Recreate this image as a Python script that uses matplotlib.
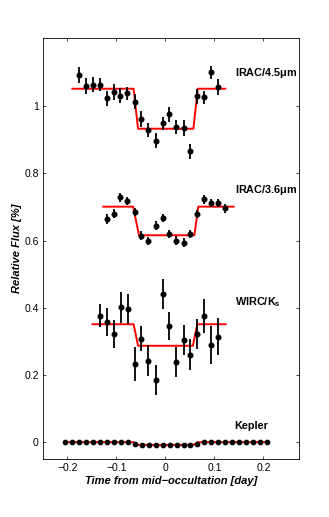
import numpy as np
from matplotlib import pyplot as plt
import matplotlib as mpl

# IRAC 4.5 micron
t_45 = [-0.176, -0.162, -0.148, -0.134, -0.120, -0.105, -0.092, -0.078, -0.062, -0.049, -0.035,
        -0.020, -0.006, 0.008, 0.022, 0.037, 0.051, 0.065, 0.078, 0.093, 0.108]
f_45 = [1.094, 1.060, 1.064, 1.064, 1.024, 1.042, 1.031, 1.038, 1.013, 0.961, 0.929,
        0.897, 0.949, 0.976, 0.938, 0.935, 0.866, 1.030, 1.026, 1.101, 1.057]
e_45 = [0.024, 0.024, 0.022, 0.020, 0.022, 0.024, 0.022, 0.020, 0.022, 0.024, 0.020,
        0.022, 0.020, 0.022, 0.022, 0.024, 0.022, 0.022, 0.020, 0.020, 0.024]
m_45_t = [-0.190, -0.065, -0.056, 0.057, 0.066, 0.122]
m_45_f = [1.052, 1.052, 0.933, 0.933, 1.052, 1.052]

# IRAC 3.6 micron
t_36 = [-0.120, -0.106, -0.092, -0.078, -0.062, -0.049, -0.035, -0.020, -0.006, 0.008, 0.022,
        0.037, 0.051, 0.065, 0.078, 0.093, 0.108, 0.122]
f_36 = [0.664, 0.680, 0.729, 0.718, 0.685, 0.615, 0.599, 0.644, 0.667, 0.620, 0.600,
        0.594, 0.620, 0.679, 0.723, 0.712, 0.712, 0.696]
e_36 = [0.014, 0.013, 0.013, 0.013, 0.013, 0.013, 0.013, 0.013, 0.013, 0.013, 0.013,
        0.013, 0.013, 0.013, 0.013, 0.013, 0.013, 0.013]
m_36_t = [-0.127, -0.066, -0.054, 0.059, 0.067, 0.139]
m_36_f = [0.701, 0.701, 0.616, 0.616, 0.701, 0.701]

# WIRC Ks
t_ks = [-0.133, -0.119, -0.105, -0.091, -0.077, -0.062, -0.049, -0.035, -0.020, -0.006, 0.008,
        0.022, 0.037, 0.051, 0.065, 0.079, 0.093, 0.108]
f_ks = [0.377, 0.357, 0.323, 0.401, 0.397, 0.233, 0.308, 0.242, 0.184, 0.441, 0.346,
        0.239, 0.304, 0.261, 0.322, 0.376, 0.290, 0.314]
e_ks = [0.035, 0.041, 0.042, 0.045, 0.045, 0.050, 0.037, 0.046, 0.045, 0.045, 0.042,
        0.045, 0.045, 0.046, 0.044, 0.050, 0.057, 0.055]
m_ks_t = [-0.149, -0.065, -0.056, 0.056, 0.065, 0.123]
m_ks_f = [0.351, 0.351, 0.287, 0.287, 0.351, 0.351]

# Kepler
t_kp = [-0.2045, -0.1903, -0.1761, -0.1619, -0.1477, -0.1335, -0.1193, -0.1051, -0.0909, -0.0767,
        -0.0625, -0.0483, -0.0341, -0.0199, -0.0057, 0.0085, 0.0227, 0.0369, 0.0511, 0.0653,
        0.0795, 0.0937, 0.1079, 0.1221, 0.1363, 0.1505, 0.1647, 0.1789, 0.1931, 0.2073]
f_kp = [0.0, 0.0, 0.0, 0.0, 0.0, 0.0, 0.0, 0.0, 0.0, 0.0,
        -0.004, -0.008, -0.008, -0.008, -0.008, -0.008, -0.008, -0.008, -0.008, -0.004,
        0.0, 0.0, 0.0, 0.0, 0.0, 0.0, 0.0, 0.0, 0.0, 0.0]
m_kp_t = [-0.2045, -0.065, -0.056, 0.057, 0.066, 0.2073]
m_kp_f = [0.0, 0.0, -0.008, -0.008, 0.0, 0.0]

labels = ['IRAC/4.5$\\mathbf{\\mu}$m', 'IRAC/3.6$\\mathbf{\\mu}$m', 'WIRC/K$_\\mathbf{s}$', 'Kepler']
label_y = [1.100, 0.751, 0.417, 0.048]


def set_mpl():
    mpl.rcParams.update(
        {
            'font.family': ['Liberation Sans', 'DejaVu Sans'],
            'mathtext.fontset': 'custom',
            'mathtext.rm': 'Liberation Sans',
            'mathtext.bf': 'Liberation Sans:bold',
            'font.size': 7.5,
            'axes.linewidth': 0.6,
            'xtick.direction': 'in',
            'ytick.direction': 'in',
            'xtick.top': True,
            'ytick.right': True,
            'xtick.major.size': 2.5,
            'ytick.major.size': 2.5,
            'xtick.major.width': 0.5,
            'ytick.major.width': 0.5,
        }
    )


def plot_figure():
    set_mpl()
    fig = plt.figure(figsize=(3.29, 5.17), dpi=100)
    ax = fig.add_axes([43 / 329, 1 - 459 / 517, (298.7 - 43) / 329, (459 - 38) / 517])

    sets = [(t_45, f_45, e_45, m_45_t, m_45_f),
            (t_36, f_36, e_36, m_36_t, m_36_f),
            (t_ks, f_ks, e_ks, m_ks_t, m_ks_f)]
    for t, f, e, mt, mf in sets:
        ax.plot(mt, mf, color='red', lw=1.4, zorder=1)
        ax.errorbar(t, f, yerr=e, fmt='o', color='black', ms=3.3, elinewidth=1.3,
                    capsize=0, zorder=2)

    ax.plot(m_kp_t, m_kp_f, color='red', lw=1.4, zorder=1)
    ax.plot(t_kp, f_kp, 'o', color='black', ms=3.1, zorder=2)

    for lab, ly in zip(labels, label_y):
        ax.text(0.141, ly, lab, fontsize=7.8, fontweight='bold', va='center', ha='left')

    ax.set_xlim(-0.25, 0.272)
    ax.set_ylim(-0.05, 1.203)
    ax.set_xticks([-0.2, -0.1, 0, 0.1, 0.2])
    ax.set_xticklabels(['\u22120.2', '\u22120.1', '0', '0.1', '0.2'])
    ax.set_yticks([0, 0.2, 0.4, 0.6, 0.8, 1.0])
    ax.set_yticklabels(['0', '0.2', '0.4', '0.6', '0.8', '1'])
    ax.tick_params(axis='x', pad=3)
    ax.tick_params(axis='y', pad=3)

    ax.set_xlabel('Time from mid\u2212occultation [day]', fontsize=8, fontweight='bold',
                  style='italic', labelpad=2)
    ax.set_ylabel('Relative Flux [%]', fontsize=8, fontweight='bold', style='italic')
    ax.yaxis.set_label_coords(-0.082, 0.5)

    plt.savefig('out.png', dpi=100)


if __name__ == "__main__":
    plot_figure()
